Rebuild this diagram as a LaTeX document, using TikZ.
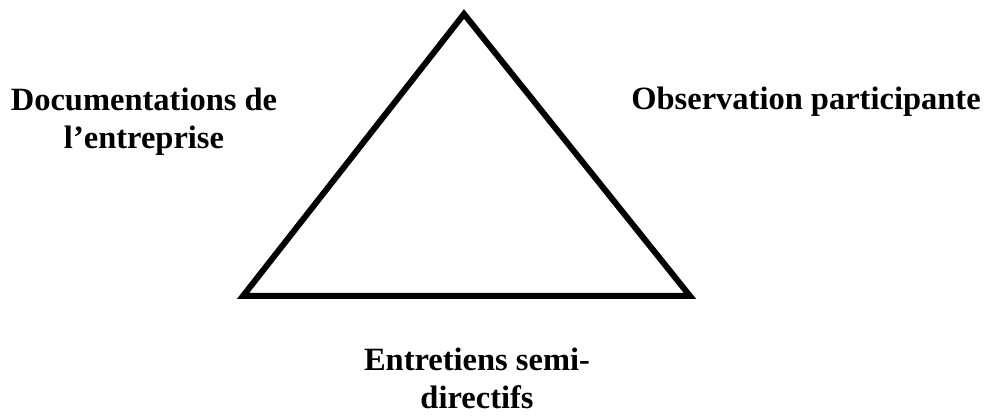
\documentclass[tikz,border=0pt]{standalone}
\usepackage{fontspec}
\setmainfont{Liberation Serif}
\begin{document}
\begin{tikzpicture}[x=1pt,y=1pt,
  lbl/.style={font=\fontsize{32.5}{38}\selectfont\bfseries, align=center, inner sep=0pt},
  tri/.style={draw=black, line width=6pt, line join=miter}]
\useasboundingbox (0,0) rectangle (989,418);
\coordinate (apex) at (464,404);
\coordinate (bl) at (243,122);
\coordinate (br) at (690,122);
\draw[tri] (apex) -- (bl) -- (br) -- cycle;
\node[lbl] (doc) at (144,296) {Documentations de\\l’entreprise};
\node[lbl] (obs) at (806,316) {Observation participante};
\node[lbl] (ent) at (477,40) {Entretiens semi-\\directifs};
\end{tikzpicture}
\end{document}
